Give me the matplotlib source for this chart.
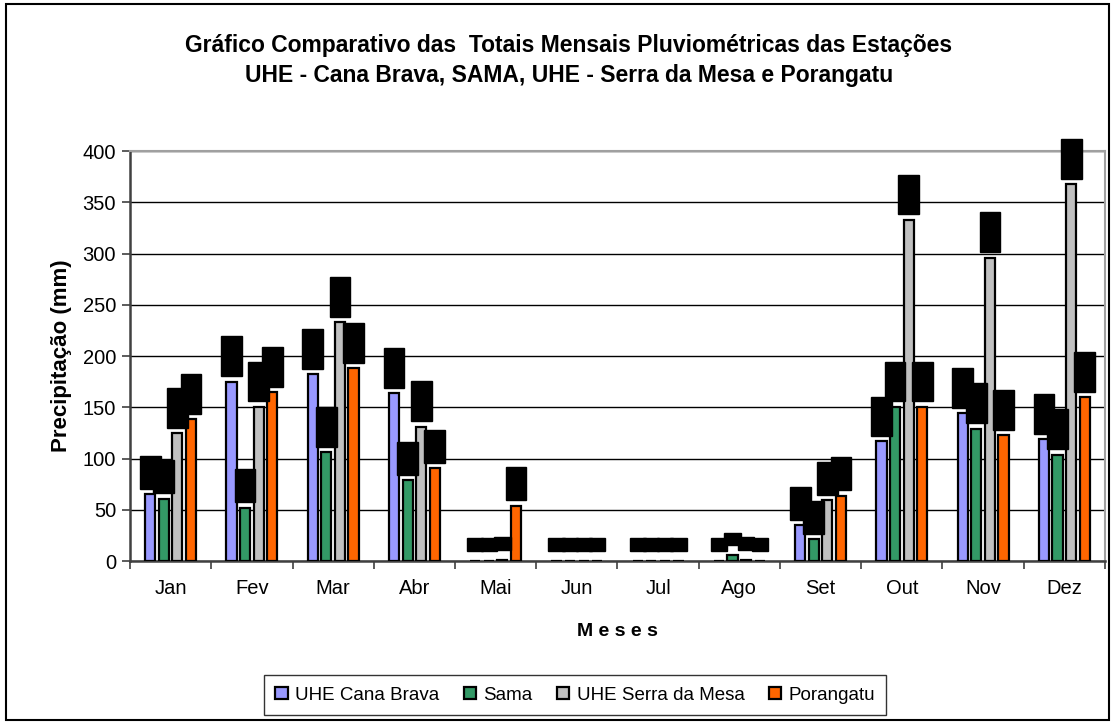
import numpy as np
import matplotlib
matplotlib.use("Agg")
import matplotlib.pyplot as plt
from matplotlib.patches import Rectangle

plt.rcParams['font.family'] = ['Liberation Sans', 'DejaVu Sans']

# monthly totals (mm)
meses = ['Jan', 'Fev', 'Mar', 'Abr', 'Mai', 'Jun', 'Jul', 'Ago', 'Set', 'Out', 'Nov', 'Dez']
cana_brava = [65.4, 175.0, 182.4, 163.6, 0.0, 0.0, 0.0, 0.0, 35.0, 117.0, 144.0, 119.0]
sama = [61.0, 52.0, 106.0, 79.0, 0.0, 0.0, 0.0, 5.8, 21.5, 150.5, 129.0, 103.7]
serra_mesa = [125.0, 150.5, 233.0, 131.0, 1.5, 0.0, 0.0, 1.5, 59.5, 333.0, 296.0, 367.5]
porangatu = [138.5, 165.0, 188.0, 90.4, 54.0, 0.0, 0.0, 0.0, 63.7, 150.5, 123.0, 159.7]

series = [
    ('UHE Cana Brava', cana_brava, '#9999FF'),
    ('Sama', sama, '#339966'),
    ('UHE Serra da Mesa', serra_mesa, '#C0C0C0'),
    ('Porangatu', porangatu, '#FF6600'),
]

fig = plt.figure(figsize=(11.15, 7.23), dpi=100)
ax = fig.add_axes([0.1166, 0.224, 0.8744, 0.567])

x = np.arange(len(meses))
step = 0.167
width = 0.125
for i, (name, vals, color) in enumerate(series):
    pos = x + (i - 1.5) * step
    ax.bar(pos, vals, width, color=color, edgecolor='black', linewidth=1.6,
           label=name, zorder=3)
    # data labels (rendered as black blocks in the original)
    for px, v in zip(pos, vals):
        txt = ('%.1f' % v).replace('.', ',')
        if v >= 10:
            ax.annotate(txt, (px, v), xytext=(0, 7), textcoords='offset points',
                        ha='center', va='bottom', rotation=90, fontsize=9,
                        color='black', zorder=4,
                        bbox=dict(boxstyle='square,pad=0.35', fc='black', ec='black'))
        else:
            ax.annotate(txt, (px, v), xytext=(0, 8), textcoords='offset points',
                        ha='center', va='bottom', fontsize=7, color='black', zorder=4,
                        bbox=dict(boxstyle='square,pad=0.15', fc='black', ec='black'))

ax.set_xlim(-0.5, len(meses) - 0.5)
ax.set_ylim(0, 400)
ax.set_yticks(range(0, 401, 50))
ax.set_xticks(x)
ax.set_xticklabels(meses)
ax.set_xticks(np.arange(-0.5, len(meses)), minor=True)
ax.tick_params(axis='x', which='major', length=0, pad=13, labelsize=14.5)
ax.tick_params(axis='x', which='minor', length=6, width=1.2, color='#404040')
ax.tick_params(axis='y', length=6, width=1.2, color='#404040', labelsize=14.5, pad=4)
ax.yaxis.grid(True, color='black', linewidth=1.0, zorder=0)
ax.set_axisbelow(True)

for side in ['top', 'right']:
    ax.spines[side].set_color('#a0a0a0')
    ax.spines[side].set_linewidth(1.5)
for side in ['left', 'bottom']:
    ax.spines[side].set_color('#404040')
    ax.spines[side].set_linewidth(1.8)

ax.set_xlabel('M e s e s', fontsize=14, fontweight='bold', labelpad=18)
ax.set_ylabel('Precipitação (mm)', fontsize=16, fontweight='bold', labelpad=8)

fig.text(0.51, 0.937, 'Gráfico Comparativo das  Totais Mensais Pluviométricas das Estações',
         ha='center', va='center', fontsize=16.5, fontweight='bold')
fig.text(0.51, 0.896, 'UHE - Cana Brava, SAMA, UHE - Serra da Mesa e Porangatu',
         ha='center', va='center', fontsize=16.5, fontweight='bold')

leg = fig.legend(loc='center', bbox_to_anchor=(0.516, 0.0387), ncol=4, fontsize=13.5,
                 frameon=True, fancybox=False, edgecolor='black',
                 handlelength=0.65, handleheight=0.65, handletextpad=0.4,
                 columnspacing=1.3, borderpad=0.6)
leg.get_frame().set_linewidth(1.0)

fig.patches.append(Rectangle((0.005, 0.004), 0.99, 0.99, transform=fig.transFigure,
                             fill=False, edgecolor='black', linewidth=1.5))

fig.savefig('out.png', dpi=100)
